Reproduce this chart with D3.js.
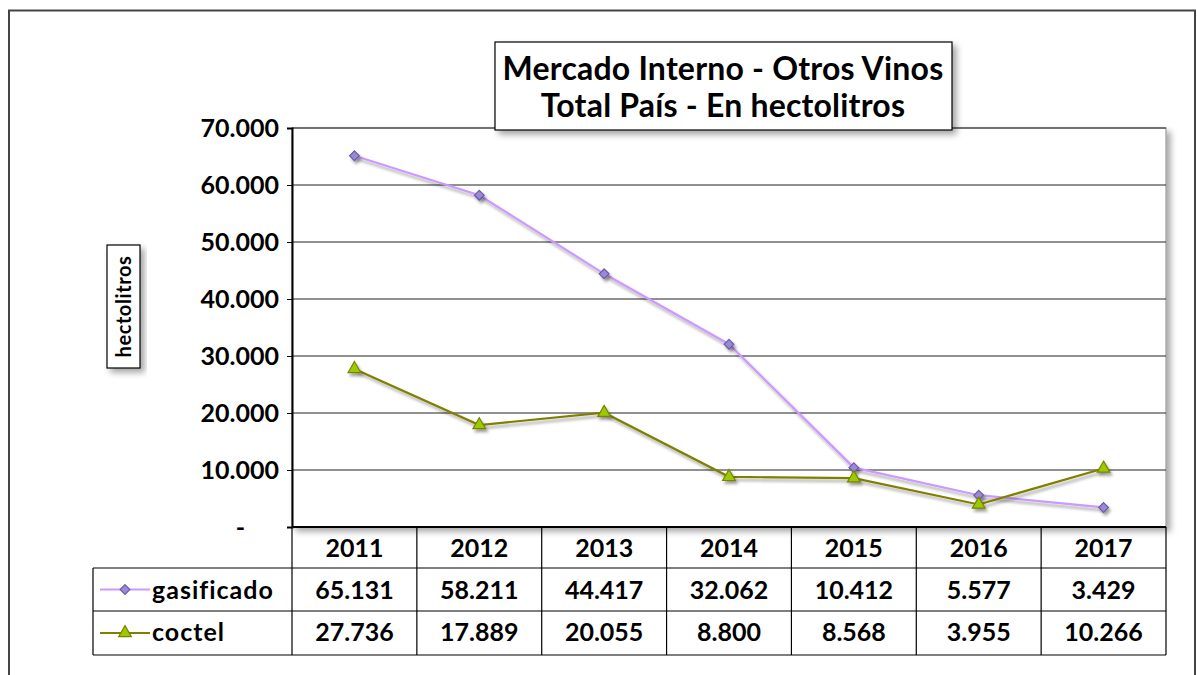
<!DOCTYPE html>
<html><head><meta charset="utf-8">
<script src="https://cdn.jsdelivr.net/npm/d3@7"></script>
<style>
body{margin:0;background:#fff;}
svg{display:block;font-family:Lato,"Open Sans",sans-serif;}
</style></head><body>
<svg id="chart" width="1197" height="675"></svg>
<script>
const years = ["2011","2012","2013","2014","2015","2016","2017"];
const gasificado = [65131, 58211, 44417, 32062, 10412, 5577, 3429];
const coctel = [27736, 17889, 20055, 8800, 8568, 3955, 10266];
const seriesNames = ["gasificado","coctel"];
const yTicks = [0,10000,20000,30000,40000,50000,60000,70000];
const titleLines = ["Mercado Interno - Otros Vinos","Total País - En hectolitros"];
const yLabel = "hectolitros";

(function(){
const svg = d3.select("#chart");
const defs = svg.append("defs");
const f = defs.append("filter").attr("id","shadow").attr("x","-10%").attr("y","-10%").attr("width","130%").attr("height","130%");
f.append("feDropShadow").attr("dx",4).attr("dy",4).attr("stdDeviation",3).attr("flood-color","#000").attr("flood-opacity",0.35);
const fm = defs.append("filter").attr("id","mshadow").attr("x","-100%").attr("y","-100%").attr("width","300%").attr("height","300%");
fm.append("feDropShadow").attr("dx",2).attr("dy",3).attr("stdDeviation",1.5).attr("flood-color","#000").attr("flood-opacity",0.35);

// outer border
svg.append("rect").attr("x",9).attr("y",10.5).attr("width",1186).attr("height",700)
  .attr("fill","#fff").attr("stroke","#444").attr("stroke-width",2);

const pLeft=292, pRight=1166, pTop=128, pBottom=527;
const x = d3.scaleBand().domain(years).range([pLeft,pRight]);
const y = d3.scaleLinear().domain([0,70000]).range([pBottom,pTop]);

// plot area
svg.append("rect").attr("x",pLeft).attr("y",pTop).attr("width",pRight-pLeft).attr("height",pBottom-pTop)
  .attr("fill","#fff").attr("stroke","#999").attr("stroke-width",1.2).attr("filter","url(#shadow)");

// gridlines
svg.append("g").selectAll("line").data(yTicks.filter(d=>d>0)).join("line")
  .attr("x1",pLeft).attr("x2",pRight).attr("y1",d=>y(d)).attr("y2",d=>y(d))
  .attr("stroke","#222").attr("stroke-width",1);

// y axis
const yAxis = d3.axisLeft(y).tickValues(yTicks).tickSize(5).tickPadding(8)
  .tickFormat(d=> d===0 ? "-" : d3.format(",")(d).replace(/,/g,"."));
const ya = svg.append("g").attr("transform",`translate(${pLeft},0)`).call(yAxis);
ya.select(".domain").attr("stroke","#000").attr("stroke-width",2);
ya.selectAll(".tick line").attr("stroke","#000");
ya.selectAll(".tick text").attr("font-size",25).attr("font-weight","bold").attr("fill","#000").attr("font-family","Lato,sans-serif");
ya.selectAll(".tick text").filter(d=>d===0).attr("dx",-34);
svg.append("line").attr("x1",pLeft).attr("x2",pRight).attr("y1",pBottom).attr("y2",pBottom).attr("stroke","#000").attr("stroke-width",2);

// y label box
svg.append("rect").attr("x",107).attr("y",245).attr("width",33).attr("height",123)
  .attr("fill","#fff").attr("stroke","#000").attr("stroke-width",1.2).attr("filter","url(#shadow)");
svg.append("text").attr("transform","translate(131,306.5) rotate(-90)").attr("text-anchor","middle")
  .attr("font-size",20).attr("font-weight","bold").attr("letter-spacing",0.6).text(yLabel);

// title box
svg.append("rect").attr("x",495).attr("y",42).attr("width",457).attr("height",88)
  .attr("fill","#fff").attr("stroke","#000").attr("stroke-width",1.2).attr("filter","url(#shadow)");
svg.append("g").selectAll("text").data(titleLines).join("text")
  .attr("x",723).attr("y",(d,i)=>80+i*37).attr("text-anchor","middle")
  .attr("font-size",32).attr("font-weight","bold").attr("letter-spacing",0.2).text(d=>d);

// series
const colors = {gasificado:{line:"#cc99ff",fill:"#9a8ad6",stroke:"#6a5aa8"}, coctel:{line:"#808000",fill:"#99cc00",stroke:"#808000"}};
const data = {gasificado, coctel};
const cx = d=>x(d)+x.bandwidth()/2;
const line = d3.line().x((d,i)=>cx(years[i])).y(d=>y(d));
const diamond = d3.symbol().type(d3.symbolDiamond2).size(60);
const triangle = d3.symbol().type(d3.symbolTriangle).size(70);
const marker = {gasificado:diamond, coctel:triangle};

seriesNames.forEach(s=>{
  const g = svg.append("g");
  g.append("path").datum(data[s]).attr("d",line).attr("fill","none")
    .attr("stroke",colors[s].line).attr("stroke-width",2.2).attr("filter","url(#mshadow)");
  g.selectAll("path.m").data(data[s]).join("path").attr("class","m")
    .attr("transform",(d,i)=>`translate(${cx(years[i])},${y(d)})`)
    .attr("d",marker[s]()).attr("fill",colors[s].fill).attr("stroke",colors[s].stroke).attr("stroke-width",1.2)
    .attr("filter","url(#mshadow)");
});

// data table
const rowY = [527,568,611,655];
const tableLeft = 93;
const tg = svg.append("g");
[1,2,3].forEach(k=>{
  tg.append("line").attr("x1",tableLeft).attr("x2",pRight).attr("y1",rowY[k]).attr("y2",rowY[k]).attr("stroke","#000").attr("stroke-width",1.2);
});
tg.append("line").attr("x1",tableLeft).attr("x2",tableLeft).attr("y1",rowY[1]).attr("y2",rowY[3]).attr("stroke","#000").attr("stroke-width",1.2);
const vx = years.map(d=>x(d)).concat([pRight]);
tg.selectAll("line.v").data(vx).join("line").attr("class","v")
  .attr("x1",d=>d).attr("x2",d=>d).attr("y1",pBottom).attr("y2",rowY[3]).attr("stroke","#000").attr("stroke-width",1.2);
tg.selectAll("text.h").data(years).join("text").attr("class","h")
  .attr("x",cx).attr("y",557).attr("text-anchor","middle").attr("font-size",25).attr("font-weight","bold").text(d=>d);
const fmt = d=>d3.format(",")(d).replace(/,/g,".");
seriesNames.forEach((s,r)=>{
  const ty = [599,641][r];
  const my = (rowY[r+1]+rowY[r+2])/2;
  tg.selectAll("text.v"+r).data(data[s]).join("text").attr("class","v"+r)
    .attr("x",(d,i)=>cx(years[i])).attr("y",ty).attr("text-anchor","middle").attr("font-size",25).attr("font-weight","bold").text(fmt);
  tg.append("line").attr("x1",100).attr("x2",150).attr("y1",my).attr("y2",my).attr("stroke",colors[s].line).attr("stroke-width",2.2);
  tg.append("path").attr("transform",`translate(125,${my})`).attr("d",marker[s]()).attr("fill",colors[s].fill).attr("stroke",colors[s].stroke).attr("stroke-width",1.2);
  tg.append("text").attr("x",152).attr("y",ty).attr("font-size",25).attr("font-weight","bold").attr("letter-spacing",1).text(s);
});
})();
</script></body></html>
